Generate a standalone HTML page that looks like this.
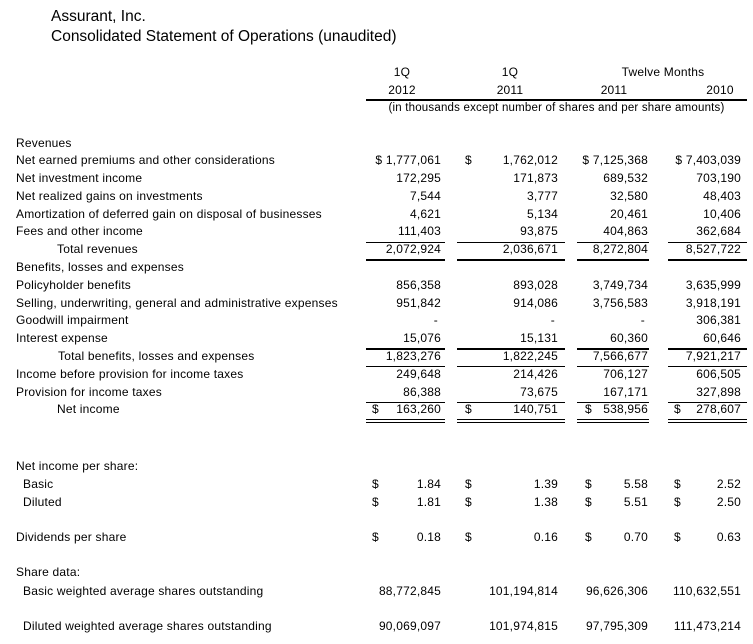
<!DOCTYPE html>
<html><head><meta charset="utf-8">
<style>
body{margin:0;background:#fff;}
#page{position:relative;width:753px;height:644px;overflow:hidden;font-family:"Liberation Sans",sans-serif;color:#000;font-size:12px;letter-spacing:0.2px;}
.t{position:absolute;line-height:14px;white-space:nowrap;}
.r{text-align:right;}
.c{text-align:center;}
.ln{position:absolute;height:1px;background:#000;}
</style></head><body>
<div id="page">
<div class="t" style="left:51px;top:8px;font-size:15.5px;line-height:18px;letter-spacing:0">Assurant, Inc.</div>
<div class="t" style="left:51px;top:28px;font-size:15.5px;line-height:18px;letter-spacing:0">Consolidated Statement of Operations (unaudited)</div>
<div class="t c" style="left:372px;width:60px;top:65px">1Q</div>
<div class="t c" style="left:480px;width:60px;top:65px">1Q</div>
<div class="t c" style="left:613px;width:100px;top:65px">Twelve Months</div>
<div class="t c" style="left:372px;width:60px;top:83px">2012</div>
<div class="t c" style="left:480px;width:60px;top:83px">2011</div>
<div class="t c" style="left:584px;width:60px;top:83px">2011</div>
<div class="t c" style="left:690px;width:60px;top:83px">2010</div>
<div class="ln" style="left:366px;width:381px;top:99px;height:2px"></div>
<div class="t c" style="left:356px;width:401px;top:101px;font-size:11.5px">(in thousands except number of shares and per share amounts)</div>
</div>
<script>
const labels=[["Revenues",143,16],["Net earned premiums and other considerations",160,16],["Net investment income",178,16],["Net realized gains on investments",196,16],["Amortization of deferred gain on disposal of businesses",214,16],["Fees and other income",231,16],["Total revenues",249,57],["Benefits, losses and expenses",267,16],["Policyholder benefits",285,16],["Selling, underwriting, general and administrative expenses",303,16],["Goodwill impairment",320,16],["Interest expense",338,16],["Total benefits, losses and expenses",356,58],["Income before provision for income taxes",374,16],["Provision for income taxes",392,16],["Net income",409,57],["Net income per share:",466,16],["Basic",484,23],["Diluted",502,23],["Dividends per share",537,16],["Share data:",572,16],["Basic weighted average shares outstanding",591,23],["Diluted weighted average shares outstanding",626,23]];
const col1=["$ 1,777,061","172,295","7,544","4,621","111,403","2,072,924","856,358","951,842","-","15,076","1,823,276","249,648","86,388","163,260","1.84","1.81","0.18","88,772,845","90,069,097"];
const col2=["1,762,012","171,873","3,777","5,134","93,875","2,036,671","893,028","914,086","-","15,131","1,822,245","214,426","73,675","140,751","1.39","1.38","0.16","101,194,814","101,974,815"];
const col3=["$ 7,125,368","689,532","32,580","20,461","404,863","8,272,804","3,749,734","3,756,583","-","60,360","7,566,677","706,127","167,171","538,956","5.58","5.51","0.70","96,626,306","97,795,309"];
const col4=["$ 7,403,039","703,190","48,403","10,406","362,684","8,527,722","3,635,999","3,918,191","306,381","60,646","7,921,217","606,505","327,898","278,607","2.52","2.50","0.63","110,632,551","111,473,214"];
const valueY=[160,178,196,214,231,249,285,303,320,338,356,374,392,409,484,502,537,591,626];
const page=document.getElementById('page');
function txt(s,x,y,cls,name){const d=document.createElement('div');d.className='t '+(cls||'');d.textContent=s;d.style.top=(y-7)+'px';
if(cls==='r'){d.style.left=(x-150)+'px';d.style.width='150px';}else d.style.left=x+'px';


page.appendChild(d);}
labels.forEach((l,i)=>txt(l[0],l[2],l[1],'', 'row-label-'+i));
const rights=[441,558,648,741],dollars=[372,465,585,674];
[col1,col2,col3,col4].forEach((col,c)=>{col.forEach((v,i)=>{const y=valueY[i];
let s=v;
if(s==='-'){txt(s,rights[c]-3,y,'r','value-c'+c+'-r'+i);return;}
txt(s,rights[c],y,'r','value-c'+c+'-r'+i);
if((i===0&&c===1)||i===13||i===14||i===15||i===16)txt('$',dollars[c],y,'','dollar-c'+c+'-r'+i);
});});
const segs=[[366,445],[457,565],[577,649],[668,747]];
const rules=[[242,1],[259,2],[348,2],[366,1],[402,1],[419,1],[422,1]];
rules.forEach((r,k)=>segs.forEach((s,j)=>{const d=document.createElement('div');d.className='ln';d.style.left=s[0]+'px';d.style.width=(s[1]-s[0])+'px';d.style.top=r[0]+'px';d.style.height=r[1]+'px';


page.appendChild(d);}));
</script>
</body></html>
